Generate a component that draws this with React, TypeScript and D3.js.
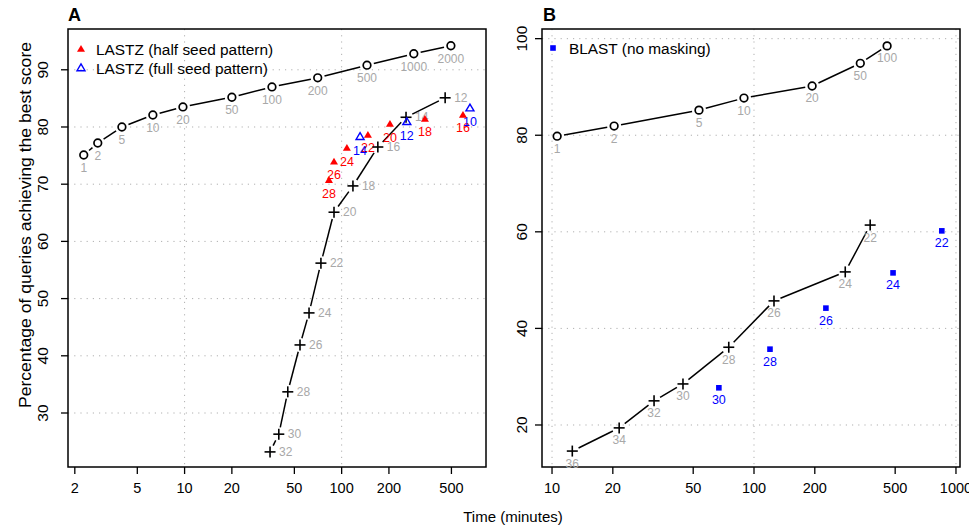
import React from "react";
import * as d3 from "d3";

// ---------- Panel A data ----------
const aCircLabels = [1, 2, 5, 10, 20, 50, 100, 200, 500, 1000, 2000];
const aCircTime = [2.28, 2.8, 3.99, 6.28, 9.76, 20.0, 36.0, 70.4, 145, 288, 496];
const aCircPct = [75.1, 77.2, 80.0, 82.1, 83.5, 85.2, 87.0, 88.6, 90.8, 92.8, 94.2];

const aCrossLabels = [12, 14, 16, 18, 20, 22, 24, 26, 28, 30, 32];
const aCrossTime = [456, 257, 170, 118, 89.4, 73.8, 62, 54.3, 45.4, 39.8, 35.0];
const aCrossPct = [85.1, 81.7, 76.5, 69.7, 65.1, 56.2, 47.5, 41.9, 33.7, 26.3, 23.2];

const aHalfLabels = [16, 18, 20, 22, 24, 26, 28];
const aHalfTime = [592, 339, 203, 147, 108, 89.4, 83];
const aHalfPct = [82.1, 81.4, 80.5, 78.6, 76.3, 73.9, 70.7];

const aFullLabels = [10, 12, 14];
const aFullTime = [656, 260, 131];
const aFullPct = [83.3, 80.9, 78.3];

const aXTicks = [2, 5, 10, 20, 50, 100, 200, 500];
const aYTicks = [30, 40, 50, 60, 70, 80, 90];
const aXGrid = [10, 100];

// ---------- Panel B data ----------
const bCircLabels = [1, 2, 5, 10, 20, 50, 100];
const bCircTime = [10.6, 20.3, 53.4, 89.2, 194, 336, 456];
const bCircPct = [79.8, 81.9, 85.2, 87.7, 90.2, 94.9, 98.5];

const bCrossLabels = [36, 34, 32, 30, 28, 26, 24, 22];
const bCrossTime = [12.6, 21.5, 32.0, 44.5, 75.0, 125.6, 283, 376];
const bCrossPct = [14.6, 19.4, 25.0, 28.5, 36.1, 45.7, 51.7, 61.4];

const bBlastLabels = [30, 28, 26, 24, 22];
const bBlastTime = [67, 120, 227, 488, 851];
const bBlastPct = [27.7, 35.7, 44.2, 51.5, 60.2];

const bXTicks = [10, 20, 50, 100, 200, 500, 1000];
const bYTicks = [20, 40, 60, 80, 100];
const bXGrid = [10, 100, 1000];

const FONT = "'Liberation Sans', Arial, Helvetica, sans-serif";
const GRAY = "#a8a8a8";
const RED = "#ff0000";
const BLUE = "#0000ff";

type Pt = { x: number; y: number; label: number };

function pts(xs: number[], ys: number[], labels: number[], sx: any, sy: any): Pt[] {
  return xs.map((t, i) => ({ x: sx(t), y: sy(ys[i]), label: labels[i] }));
}

function GapLine({ p, gap }: { p: Pt[]; gap: number }) {
  const segs: any[] = [];
  for (let i = 0; i < p.length - 1; i++) {
    const a = p[i], b = p[i + 1];
    const dx = b.x - a.x, dy = b.y - a.y;
    const len = Math.hypot(dx, dy);
    if (len <= 2 * gap) continue;
    const ux = dx / len, uy = dy / len;
    segs.push(
      <line key={i} x1={a.x + ux * gap} y1={a.y + uy * gap} x2={b.x - ux * gap} y2={b.y - uy * gap}
        stroke="#000" strokeWidth={1.5} />
    );
  }
  return <g>{segs}</g>;
}

function Circle({ x, y }: { x: number; y: number }) {
  return <circle cx={x} cy={y} r={3.8} fill="white" stroke="#000" strokeWidth={1.7} />;
}
function Cross({ x, y }: { x: number; y: number }) {
  const h = 5.5;
  return (
    <g stroke="#000" strokeWidth={1.6}>
      <line x1={x - h} y1={y} x2={x + h} y2={y} />
      <line x1={x} y1={y - h} x2={x} y2={y + h} />
    </g>
  );
}
function TriFill({ x, y, c }: { x: number; y: number; c: string }) {
  const w = 4, h = 6.8;
  return <path d={`M${x},${y - h * 0.6}L${x + w},${y + h * 0.4}L${x - w},${y + h * 0.4}Z`} fill={c} />;
}
function TriOpen({ x, y, c }: { x: number; y: number; c: string }) {
  const w = 4, h = 6.8;
  return <path d={`M${x},${y - h * 0.6}L${x + w},${y + h * 0.4}L${x - w},${y + h * 0.4}Z`} fill="none" stroke={c} strokeWidth={1.4} />;
}
function Square({ x, y, c }: { x: number; y: number; c: string }) {
  const s = 2.8;
  return <rect x={x - s} y={y - s} width={2 * s} height={2 * s} fill={c} />;
}

function Frame({ sx, sy, xTicks, yTicks, xGrid, left, right, top, bottom, yLabOff }: any) {
  return (
    <g>
      <g stroke="#b0b0b0" strokeWidth={1} strokeDasharray="1.2 5">
        {yTicks.map((v: number) => (
          <line key={"gy" + v} x1={left} x2={right} y1={sy(v)} y2={sy(v)} />
        ))}
        {xGrid.map((v: number) => (
          <line key={"gx" + v} x1={sx(v)} x2={sx(v)} y1={top} y2={bottom} />
        ))}
      </g>
      <rect x={left} y={top} width={right - left} height={bottom - top} fill="none" stroke="#000" strokeWidth={1.5} />
      {xTicks.map((v: number) => (
        <g key={"xt" + v}>
          <line x1={sx(v)} x2={sx(v)} y1={bottom} y2={bottom + 7} stroke="#000" strokeWidth={1.3} />
          <text x={sx(v)} y={bottom + 26} textAnchor="middle" fontSize={14.5} fontFamily={FONT}>{v}</text>
        </g>
      ))}
      {yTicks.map((v: number) => (
        <g key={"yt" + v}>
          <line x1={left - 7} x2={left} y1={sy(v)} y2={sy(v)} stroke="#000" strokeWidth={1.3} />
          <text transform={`translate(${left - yLabOff},${sy(v)}) rotate(-90)`} textAnchor="middle" fontSize={15.5} fontFamily={FONT}>{v}</text>
        </g>
      ))}
    </g>
  );
}

function LabelsBelow({ p, color, size, dy }: { p: Pt[]; color: string; size: number; dy: number }) {
  return (
    <g>
      {p.map((d, i) => (
        <text key={i} x={d.x} y={d.y + dy} textAnchor="middle" dominantBaseline="central" fill={color} fontSize={size} fontFamily={FONT}>{d.label}</text>
      ))}
    </g>
  );
}
function LabelsRight({ p, color, size }: { p: Pt[]; color: string; size: number }) {
  return (
    <g>
      {p.map((d, i) => (
        <text key={i} x={d.x + 9} y={d.y} dominantBaseline="central" fill={color} fontSize={size} fontFamily={FONT}>{d.label}</text>
      ))}
    </g>
  );
}

export default function App() {
  const aL = 68, aR = 486, top = 29, bottom = 467;
  const axs = d3.scaleLog().domain([1.81, 830]).range([aL, aR]);
  const ays = d3.scaleLinear().domain([20.56, 97.13]).range([bottom, top]);
  const bL = 542, bR = 960;
  const bxs = d3.scaleLog().domain([8.92, 1047]).range([bL, bR]);
  const bys = d3.scaleLinear().domain([11.3, 102.0]).range([bottom, top]);

  const aCirc = pts(aCircTime, aCircPct, aCircLabels, axs, ays);
  const aCross = pts(aCrossTime, aCrossPct, aCrossLabels, axs, ays);
  const aHalf = pts(aHalfTime, aHalfPct, aHalfLabels, axs, ays);
  const aFull = pts(aFullTime, aFullPct, aFullLabels, axs, ays);

  const bCirc = pts(bCircTime, bCircPct, bCircLabels, bxs, bys);
  const bCross = pts(bCrossTime, bCrossPct, bCrossLabels, bxs, bys);
  const bBlast = pts(bBlastTime, bBlastPct, bBlastLabels, bxs, bys);

  return (
    <svg width={969} height={525} style={{ position: "absolute", left: 0, top: 0, background: "white" }}>
      <rect x={0} y={0} width={969} height={525} fill="white" />
      {/* Panel A */}
      <Frame sx={axs} sy={ays} xTicks={aXTicks} yTicks={aYTicks} xGrid={aXGrid} left={aL} right={aR} top={top} bottom={bottom} yLabOff={20} />
      <text x={aL} y={21} fontSize={18} fontWeight="bold" fontFamily={FONT}>A</text>
      <GapLine p={aCirc} gap={7} />
      <GapLine p={aCross} gap={7} />
      <LabelsBelow p={aCirc} color={GRAY} size={12} dy={13} />
      <LabelsRight p={aCross} color={GRAY} size={12} />
      <LabelsBelow p={aHalf} color={RED} size={12.5} dy={13.5} />
      <LabelsBelow p={aFull} color={BLUE} size={12.5} dy={14} />
      {aCirc.map((d, i) => <Circle key={"ac" + i} x={d.x} y={d.y} />)}
      {aCross.map((d, i) => <Cross key={"ax" + i} x={d.x} y={d.y} />)}
      {aHalf.map((d, i) => <TriFill key={"ah" + i} x={d.x} y={d.y} c={RED} />)}
      {aFull.map((d, i) => <TriOpen key={"af" + i} x={d.x} y={d.y} c={BLUE} />)}
      {/* legend A */}
      <TriFill x={81} y={49} c={RED} />
      <text x={96} y={49} dominantBaseline="central" fontSize={15.4} fontFamily={FONT}>LASTZ (half seed pattern)</text>
      <TriOpen x={81} y={68} c={BLUE} />
      <text x={96} y={68} dominantBaseline="central" fontSize={15.4} fontFamily={FONT}>LASTZ (full seed pattern)</text>

      {/* Panel B */}
      <Frame sx={bxs} sy={bys} xTicks={bXTicks} yTicks={bYTicks} xGrid={bXGrid} left={bL} right={bR} top={top} bottom={bottom} yLabOff={15} />
      <text x={bL + 1} y={21} fontSize={18} fontWeight="bold" fontFamily={FONT}>B</text>
      <GapLine p={bCirc} gap={7} />
      <GapLine p={bCross} gap={7} />
      <LabelsBelow p={bCirc} color={GRAY} size={12} dy={12.5} />
      <LabelsBelow p={bCross} color={GRAY} size={12} dy={12.5} />
      <LabelsBelow p={bBlast} color={BLUE} size={12.5} dy={12.5} />
      {bCirc.map((d, i) => <Circle key={"bc" + i} x={d.x} y={d.y} />)}
      {bCross.map((d, i) => <Cross key={"bx" + i} x={d.x} y={d.y} />)}
      {bBlast.map((d, i) => <Square key={"bb" + i} x={d.x} y={d.y} c={BLUE} />)}
      {/* legend B */}
      <Square x={553} y={48} c={BLUE} />
      <text x={569} y={48} dominantBaseline="central" fontSize={15.4} fontFamily={FONT}>BLAST (no masking)</text>

      {/* axis titles */}
      <text x={513} y={516} textAnchor="middle" dominantBaseline="central" fontSize={15} fontFamily={FONT}>Time (minutes)</text>
      <text transform="translate(25,225) rotate(-90)" textAnchor="middle" dominantBaseline="central" fontSize={16} fontFamily={FONT}
        textLength={366} lengthAdjust="spacingAndGlyphs">Percentage of queries achieving the best score</text>
    </svg>
  );
}
